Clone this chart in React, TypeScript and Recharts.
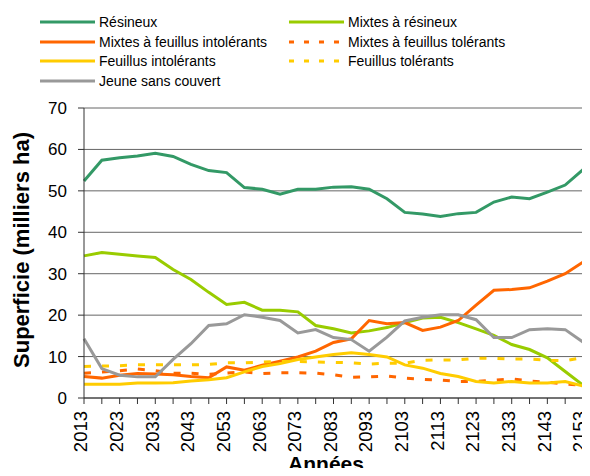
import { CartesianGrid, Line, LineChart, XAxis, YAxis } from "recharts";

const years = [
  2013, 2018, 2023, 2028, 2033, 2038, 2043, 2048, 2053, 2058, 2063, 2068, 2073, 2078, 2083,
  2088, 2093, 2098, 2103, 2108, 2113, 2118, 2123, 2128, 2133, 2138, 2143, 2148, 2153,
];

const resineux = [
  52.4, 57.4, 58.0, 58.4, 59.1, 58.3, 56.4, 54.9, 54.4, 50.8, 50.4, 49.2, 50.4, 50.4, 50.9,
  51.0, 50.4, 48.1, 44.8, 44.4, 43.8, 44.5, 44.8, 47.3, 48.5, 48.1, 49.7, 51.4, 55.1,
];
const mixtesResineux = [
  34.3, 35.1, 34.7, 34.3, 33.9, 31.0, 28.6, 25.5, 22.6, 23.1, 21.2, 21.2, 20.8, 17.5, 16.7,
  15.7, 16.2, 17.0, 18.2, 19.3, 19.5, 18.2, 16.7, 15.1, 12.9, 11.7, 9.7, 6.4, 3.1,
];
const mixtesFeuillusIntol = [
  5.2, 4.8, 5.5, 5.9, 5.8, 5.6, 5.2, 4.9, 7.5, 6.7, 7.9, 8.9, 9.9, 11.3, 13.4,
  14.3, 18.7, 17.9, 18.2, 16.3, 17.1, 18.7, 22.4, 26.0, 26.2, 26.6, 28.2, 30.0, 32.8,
];
const mixtesFeuillusTol = [
  6.0, 6.3, 6.6, 7.0, 6.6, 6.0, 6.0, 5.7, 6.0, 6.3, 5.9, 6.1, 6.1, 6.0, 5.6,
  5.0, 5.1, 5.3, 4.8, 4.5, 4.3, 4.0, 4.0, 4.3, 4.6, 4.1, 3.8, 3.4, 3.0,
];
const feuillusIntol = [
  3.3, 3.3, 3.3, 3.6, 3.6, 3.7, 4.1, 4.4, 4.9, 6.3, 7.6, 8.3, 9.3, 9.9, 10.5,
  10.9, 10.5, 9.9, 8.0, 7.2, 5.9, 5.2, 4.0, 3.6, 4.0, 3.6, 3.6, 4.0, 2.9,
];
const feuillusTol = [
  7.6, 7.7, 7.8, 8.0, 8.0, 8.0, 8.0, 8.1, 8.5, 8.5, 8.7, 8.8, 8.8, 8.7, 8.6,
  8.5, 8.2, 8.4, 8.4, 9.1, 9.2, 9.2, 9.6, 9.6, 9.4, 9.4, 9.1, 9.0, 9.8,
];
const jeune = [
  14.3, 7.1, 5.5, 5.1, 5.1, 9.3, 13.1, 17.5, 17.9, 20.1, 19.5, 18.7, 15.7, 16.5, 14.6,
  14.1, 11.3, 14.7, 18.6, 19.5, 20.1, 20.1, 18.9, 14.6, 14.6, 16.5, 16.7, 16.5, 13.5,
];

const yTicks = [0, 10, 20, 30, 40, 50, 60, 70];

const series = [
  { key: "resineux", name: "Résineux", color: "#339966", dash: undefined, col: 0, row: 0 },
  { key: "mixtesResineux", name: "Mixtes à résineux", color: "#99CC00", dash: undefined, col: 1, row: 0 },
  { key: "mixtesFeuillusIntol", name: "Mixtes à feuillus intolérants", color: "#FF6600", dash: undefined, col: 0, row: 1 },
  { key: "mixtesFeuillusTol", name: "Mixtes à feuillus tolérants", color: "#FF6600", dash: "7 11", col: 1, row: 1 },
  { key: "feuillusIntol", name: "Feuillus intolérants", color: "#FFCC00", dash: undefined, col: 0, row: 2 },
  { key: "feuillusTol", name: "Feuillus tolérants", color: "#FFCC00", dash: "7 11", col: 1, row: 2 },
  { key: "jeune", name: "Jeune sans couvert", color: "#999999", dash: undefined, col: 0, row: 3 },
];

const data = years.map((year, i) => ({
  year,
  resineux: resineux[i],
  mixtesResineux: mixtesResineux[i],
  mixtesFeuillusIntol: mixtesFeuillusIntol[i],
  mixtesFeuillusTol: mixtesFeuillusTol[i],
  feuillusIntol: feuillusIntol[i],
  feuillusTol: feuillusTol[i],
  jeune: jeune[i],
}));

const FONT = '"Liberation Sans", Arial, sans-serif';

// every category gets a tick mark, only every second one gets a label
const YearTick = ({ x, y, payload, index }: any) => (
  <g transform={`translate(${x},${y})`}>
    <line x1={0} x2={0} y1={0} y2={6} stroke="#333" />
    {index % 2 === 0 && (
      <text
        transform="rotate(-90)"
        x={-13}
        y={0}
        dy="0.18em"
        textAnchor="end"
        fontSize={18.5}
        fontFamily={FONT}
        fill="#000"
      >
        {payload.value}
      </text>
    )}
  </g>
);

const Legend = () => (
  <>
    {series.map((s) => (
      <div
        key={s.key}
        style={{
          position: "absolute",
          left: s.col === 0 ? 32 : 281,
          top: 5 + s.row * 19.7,
          height: 18,
          display: "flex",
          alignItems: "center",
          fontFamily: FONT,
          fontSize: 14,
          whiteSpace: "nowrap",
        }}
      >
        <svg width={59} height={6} style={{ display: "block" }}>
          <line
            x1={0}
            x2={55}
            y1={3}
            y2={3}
            stroke={s.color}
            strokeWidth={3}
            strokeDasharray={s.dash ? "5 10" : undefined}
          />
        </svg>
        <span>{s.name}</span>
      </div>
    ))}
  </>
);

export default function App() {
  return (
    <div style={{ position: "relative", width: 582, height: 468, marginBottom: -8 }}>
      <Legend />
      <LineChart
        width={582}
        height={468}
        data={data}
        margin={{ top: 100, right: 7, left: 0, bottom: 0 }}
        style={{ overflow: "visible" }}
      >
        <CartesianGrid vertical={false} stroke="#666" />
        <XAxis
          dataKey="year"
          interval={0}
          height={78}
          tickSize={0}
          tickMargin={0}
          tickLine={false}
          axisLine={{ stroke: "#333" }}
          tick={<YearTick />}
          label={() => (
            <text
              x={318}
              y={463}
              textAnchor="middle"
              fontSize={21}
              fontWeight="bold"
              fontFamily={FONT}
              fill="#000"
            >
              Années
            </text>
          )}
        />
        <YAxis
          domain={[0, 70]}
          ticks={yTicks}
          width={76}
          tickSize={6}
          tickMargin={11}
          axisLine={{ stroke: "#333" }}
          tickLine={{ stroke: "#333" }}
          tick={{ fontSize: 17, fill: "#000", fontFamily: FONT }}
          label={() => (
            <text
              x={13}
              y={242}
              transform="rotate(-90 13 242)"
              textAnchor="middle"
              dominantBaseline="central"
              fontSize={22}
              fontWeight="bold"
              fontFamily={FONT}
              fill="#000"
            >
              Superficie (milliers ha)
            </text>
          )}
        />
        <YAxis
          yAxisId="r"
          orientation="right"
          domain={[0, 70]}
          width={0}
          tick={false}
          tickLine={false}
          axisLine={{ stroke: "#999", strokeWidth: 2 }}
        />
        {series.map((s) => (
          <Line
            key={s.key}
            type="linear"
            dataKey={s.key}
            name={s.name}
            stroke={s.color}
            strokeWidth={3}
            strokeDasharray={s.dash}
            dot={false}
            activeDot={false}
            isAnimationActive={false}
          />
        ))}
      </LineChart>
    </div>
  );
}
